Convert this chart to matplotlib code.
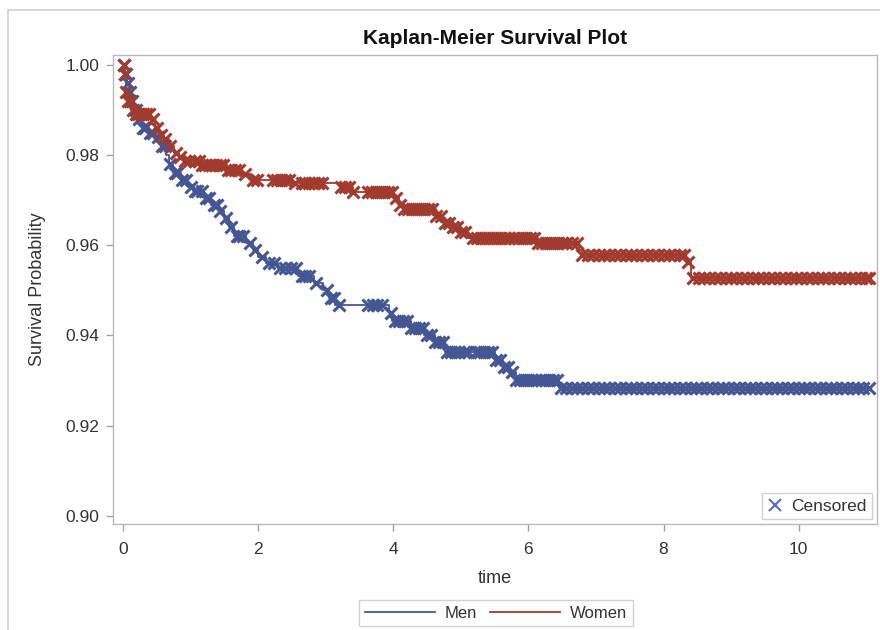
import numpy as np
import matplotlib
matplotlib.use("Agg")
import matplotlib.pyplot as plt
from matplotlib.lines import Line2D

plt.rcParams['font.family'] = ['Liberation Sans', 'DejaVu Sans']

# ---------------- data ----------------
men_times = [0.00, 0.03, 0.06, 0.09, 0.12, 0.16, 0.22, 0.28, 0.38, 0.49, 0.56, 0.64, 0.68, 0.74,
             0.86, 0.96, 1.04, 1.20, 1.30, 1.42, 1.49, 1.57, 1.64, 1.82, 1.92, 2.00, 2.12, 2.29,
             2.59, 2.83, 2.96, 3.05, 3.14, 3.93, 3.98, 4.26, 4.45, 4.62, 4.76, 5.50, 5.62, 5.71,
             5.81, 6.45]
men_surv = [1.000, 0.998, 0.996, 0.994, 0.992, 0.990, 0.988, 0.986, 0.985, 0.984, 0.982, 0.980,
            0.978, 0.976, 0.9745, 0.973, 0.972, 0.9705, 0.969, 0.9675, 0.966, 0.964, 0.962,
            0.9605, 0.959, 0.9575, 0.956, 0.9549, 0.9532, 0.9517, 0.9500, 0.9484, 0.9468,
            0.9450, 0.9432, 0.9417, 0.9400, 0.9385, 0.9364, 0.9346, 0.9330, 0.9320, 0.9302, 0.9284]

women_times = [0.00, 0.02, 0.04, 0.05, 0.07, 0.12, 0.16, 0.41, 0.47, 0.53, 0.61, 0.68, 0.75,
               0.83, 0.90, 1.15, 1.52, 1.75, 1.89, 2.49, 3.22, 3.40, 4.01, 4.08, 4.16, 4.63,
               4.73, 4.88, 5.00, 5.10, 6.09, 6.75, 6.80, 8.33, 8.40]
women_surv = [1.000, 0.998, 0.996, 0.994, 0.992, 0.990, 0.9892, 0.988, 0.986, 0.9845, 0.9835,
              0.982, 0.9805, 0.9795, 0.9787, 0.9778, 0.9768, 0.9758, 0.9745, 0.9738, 0.9730,
              0.9718, 0.9705, 0.9690, 0.9680, 0.9665, 0.9650, 0.9640, 0.9630, 0.9616, 0.9605,
              0.9590, 0.9578, 0.9562, 0.9528]

end_time = 11.05

men_censored = [0.01, 0.03, 0.05, 0.08, 0.11, 0.14, 0.19, 0.24, 0.30, 0.33, 0.40, 0.45, 0.52, 0.58,
                0.62, 0.70, 0.77, 0.80, 0.88, 0.93, 1.00, 1.06, 1.10, 1.17, 1.23, 1.27, 1.34, 1.39,
                1.44, 1.53, 1.60, 1.68, 1.72, 1.78, 1.88, 1.96, 2.06, 2.16, 2.23, 2.32, 2.40, 2.48,
                2.56, 2.65, 2.70, 2.75, 2.85, 3.02, 3.08, 3.12, 3.20, 3.62, 3.70, 3.76, 3.84,
                3.96, 4.02, 4.08, 4.14, 4.20, 4.26, 4.32, 4.38, 4.44, 4.50, 4.56, 4.62, 4.68, 4.74,
                4.80, 4.86, 4.92, 4.98, 5.04, 5.10, 5.22, 5.28, 5.34, 5.40, 5.46, 5.52, 5.58, 5.64,
                5.70, 5.76, 5.82, 5.88, 5.94, 6.00, 6.06, 6.12, 6.18, 6.24, 6.30, 6.36, 6.42, 6.48,
                6.56, 6.64, 6.72, 6.80, 6.88, 6.96, 7.04, 7.12, 7.20, 7.28, 7.36, 7.44, 7.52, 7.60,
                7.68, 7.76, 7.84, 7.92, 8.00, 8.08, 8.16, 8.24, 8.32, 8.40, 8.48, 8.56, 8.64, 8.72,
                8.80, 8.88, 8.96, 9.04, 9.12, 9.20, 9.28, 9.36, 9.44, 9.52, 9.60, 9.68, 9.76, 9.84,
                9.92, 10.00, 10.08, 10.16, 10.24, 10.32, 10.40, 10.48, 10.56, 10.64, 10.72, 10.80,
                10.88, 10.96, 11.04]

women_censored = [0.01, 0.03, 0.05, 0.08, 0.11, 0.15, 0.19, 0.22, 0.26, 0.30, 0.34, 0.38, 0.45,
                  0.50, 0.56, 0.62, 0.70, 0.78, 0.85, 0.92, 0.97, 1.06, 1.12, 1.17, 1.22, 1.27,
                  1.32, 1.38, 1.43, 1.48, 1.55, 1.60, 1.66, 1.72, 1.80, 1.92, 1.98, 2.22, 2.28,
                  2.34, 2.40, 2.46, 2.55, 2.65, 2.70, 2.76, 2.82, 2.88, 2.94, 3.23, 3.29, 3.35,
                  3.41, 3.62, 3.68, 3.74, 3.80, 3.86, 3.92, 3.98,
                  4.04, 4.10, 4.16, 4.22, 4.28, 4.34, 4.40, 4.46, 4.52, 4.58, 4.64, 4.70, 4.76,
                  4.82, 4.88, 4.94, 5.00, 5.06, 5.18, 5.24, 5.30, 5.36, 5.42, 5.48, 5.54, 5.60,
                  5.66, 5.72, 5.78, 5.84, 5.90, 5.96, 6.02, 6.08, 6.14, 6.20, 6.26, 6.32, 6.38,
                  6.44, 6.50, 6.56, 6.64, 6.72, 6.80, 6.88, 6.96, 7.04, 7.12, 7.20, 7.28, 7.36,
                  7.44, 7.52, 7.60, 7.68, 7.76, 7.84, 7.92, 8.00, 8.08, 8.16, 8.24, 8.30, 8.36,
                  8.44, 8.52, 8.60, 8.68, 8.76, 8.84, 8.92, 9.00, 9.08, 9.16, 9.24, 9.32, 9.40,
                  9.48, 9.56, 9.64, 9.72, 9.80, 9.88, 9.96, 10.04, 10.12, 10.20, 10.28, 10.36,
                  10.44, 10.52, 10.60, 10.68, 10.76, 10.84, 10.92, 11.00, 11.04]

group_names = ["Men", "Women"]
colors = ["#445694", "#A23A2E"]
x_ticks = [0, 2, 4, 6, 8, 10]
y_ticks = [0.90, 0.92, 0.94, 0.96, 0.98, 1.00]

# ---------------- figure ----------------
fig = plt.figure(figsize=(8.8, 6.3), dpi=100)
fig.patch.set_facecolor("white")
# outer frame lines (left and top)
fig.add_artist(Line2D([8 / 880, 8 / 880], [0, 1 - 10 / 630], transform=fig.transFigure,
                      color="#cfcfcf", lw=1.2))
fig.add_artist(Line2D([8 / 880, 1], [1 - 10 / 630, 1 - 10 / 630], transform=fig.transFigure,
                      color="#cfcfcf", lw=1.2))

ax = fig.add_axes([113 / 880, 1 - 524 / 630, (877 - 113) / 880, (524 - 55) / 630])

groups = [(men_times, men_surv, men_censored), (women_times, women_surv, women_censored)]
for (t, s, c), col in zip(groups, colors):
    t_arr = np.array(list(t) + [end_time])
    s_arr = np.array(list(s) + [s[-1]])
    ax.step(t_arr, s_arr, where="post", color=col, lw=1.3, zorder=3)
    c_arr = np.array(c)
    idx = np.searchsorted(np.array(t), c_arr, side="right") - 1
    ax.plot(c_arr, np.array(s)[idx], linestyle="none", marker="x", color=col,
            markersize=9, markeredgewidth=2.2, zorder=4)

ax.set_xlim(-0.148, 11.16)
ax.set_ylim(0.8982, 1.0022)
ax.set_xticks(x_ticks)
ax.set_xticklabels([str(v) for v in x_ticks])
ax.set_yticks(y_ticks)
ax.set_yticklabels([f"{v:.2f}" for v in y_ticks])

for sp in ax.spines.values():
    sp.set_color("#b8b8b8")
    sp.set_linewidth(1.0)
ax.tick_params(axis="both", colors="#a0a0a0", labelcolor="#333333", labelsize=12.5,
               length=5, width=1.0, direction="out")
ax.tick_params(axis="x", pad=8)
ax.tick_params(axis="y", pad=5)

ax.set_title("Kaplan-Meier Survival Plot", fontsize=15, fontweight="bold", color="#111111",
             pad=8)
ax.set_xlabel("time", fontsize=13, color="#333333", labelpad=9)
ax.set_ylabel("Survival Probability", fontsize=13, color="#333333", labelpad=14)

# censored legend (inside, lower right)
cens_handle = Line2D([], [], linestyle="none", marker="x", color="#4B6FC4",
                     markersize=8, markeredgewidth=1.5)
leg1 = ax.legend([cens_handle], ["Censored"], loc="lower right", fontsize=12.5,
                 frameon=True, fancybox=False, edgecolor="#d0d0d0", framealpha=1,
                 handlelength=0.9, handletextpad=0.5, borderpad=0.3,
                 borderaxespad=0.3)
leg1.get_frame().set_linewidth(1.0)
for txt in leg1.get_texts():
    txt.set_color("#333333")

# group legend at bottom
handles = [Line2D([], [], color=c, lw=1.3) for c in colors]
leg2 = fig.legend(handles, group_names, loc="center", ncol=2,
                  bbox_to_anchor=(496 / 880, 1 - 613 / 630), fontsize=12,
                  frameon=True, fancybox=False, edgecolor="#d0d0d0", framealpha=1,
                  handlelength=4.2, handletextpad=0.6, columnspacing=0.8,
                  borderpad=0.35)
leg2.get_frame().set_linewidth(1.0)
for txt in leg2.get_texts():
    txt.set_color("#333333")

fig.savefig("out.png", dpi=100, facecolor="white")
